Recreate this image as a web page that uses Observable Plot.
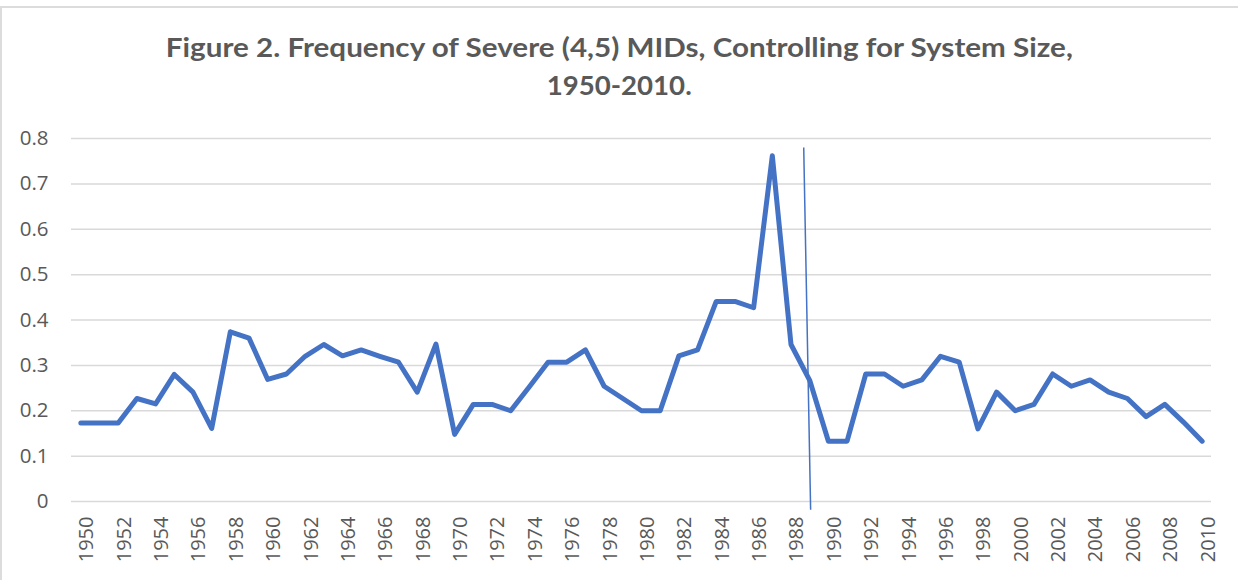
<!DOCTYPE html>
<html>
<head>
<meta charset="utf-8">
<script src="https://cdn.jsdelivr.net/npm/d3@7"></script>
<script src="https://cdn.jsdelivr.net/npm/@observablehq/plot@0.6"></script>
<style>
  body { margin: 0; background: #fff; }
  #wrap { position: relative; width: 1238px; height: 580px; overflow: hidden; background: #fff; }
  #frame { position: absolute; left: 0; top: 6px; width: 1400px; height: 800px;
           border-left: 2px solid #dcdcdc; border-top: 2px solid #dcdcdc; pointer-events: none; z-index: 3; }
  .t { position: absolute; left: 0; width: 1238px; text-align: center;
       font-family: Lato, "Open Sans", sans-serif; font-weight: bold; font-size: 27.5px; line-height: 27px;
       color: #595959; white-space: nowrap; z-index: 2; }
  .t span { display: inline-block; transform-origin: 50% 50%; }
  #chart { position: absolute; left: 0; top: 120px; }
</style>
</head>
<body>
<div id="wrap">
  <div id="frame"></div>
  <div class="t" id="t1" style="top:33px"><span data-w="907">Figure 2. Frequency of Severe (4,5) MIDs, Controlling for System Size,</span></div>
  <div class="t" id="t2" style="top:71px"><span data-w="145">1950-2010.</span></div>
  <div id="chart"></div>
</div>
<script>
const years = [
  1950,1951,1952,1953,1954,1955,1956,1957,1958,1959,
  1960,1961,1962,1963,1964,1965,1966,1967,1968,1969,
  1970,1971,1972,1973,1974,1975,1976,1977,1978,1979,
  1980,1981,1982,1983,1984,1985,1986,1987,1988,1989,
  1990,1991,1992,1993,1994,1995,1996,1997,1998,1999,
  2000,2001,2002,2003,2004,2005,2006,2007,2008,2009,
  2010
];
const values = [
  0.173,0.173,0.173,0.227,0.215,0.280,0.241,0.161,0.374,0.360,
  0.269,0.281,0.320,0.346,0.321,0.334,0.320,0.307,0.241,0.347,
  0.148,0.214,0.214,0.200,0.253,0.307,0.307,0.334,0.254,0.227,
  0.200,0.200,0.321,0.334,0.441,0.441,0.427,0.762,0.346,0.267,
  0.133,0.133,0.281,0.281,0.254,0.268,0.320,0.307,0.160,0.241,
  0.200,0.214,0.281,0.254,0.268,0.241,0.227,0.187,0.214,0.175,
  0.133
];
const yTicks = [0, 0.1, 0.2, 0.3, 0.4, 0.5, 0.6, 0.7, 0.8];
const yTickLabels = ["0", "0.1", "0.2", "0.3", "0.4", "0.5", "0.6", "0.7", "0.8"];
const xTickYears = [1950,1952,1954,1956,1958,1960,1962,1964,1966,1968,1970,1972,1974,1976,1978,
  1980,1982,1984,1986,1988,1990,1992,1994,1996,1998,2000,2002,2004,2006,2008,2010];
// hand-drawn annotation line (start / end)
const markerYears = [1988.68, 1989.05];
const markerValues = [0.78, -0.018];

const data = years.map((year, i) => ({year, value: values[i]}));
const marker = [{x1: markerYears[0], y1: markerValues[0], x2: markerYears[1], y2: markerValues[1]}];

const plot = Plot.plot({
  width: 1238,
  height: 460,
  marginLeft: 71,
  marginRight: 27,
  marginTop: 18,
  marginBottom: 79,
  style: {background: "transparent", fontFamily: "'Open Sans', sans-serif", color: "#595959"},
  x: {domain: [1949.5, 2010.5]},
  y: {domain: [0, 0.8]},
  marks: [
    Plot.gridY(yTicks, {stroke: "#d9d9d9", strokeOpacity: 1, strokeWidth: 1.5}),
    Plot.axisY(yTicks, {tickSize: 0, tickPadding: 23, fontSize: 20.5, label: null,
      tickFormat: (d, i) => yTickLabels[yTicks.indexOf(d)], fill: "#595959"}),
    Plot.axisX(xTickYears, {tickSize: 0, tickRotate: -90, tickPadding: 15, fontSize: 20, label: null,
      tickFormat: d => String(d), fill: "#595959", dx: 6}),
    Plot.line(data, {x: "year", y: "value", stroke: "#4472C4", strokeWidth: 5,
      strokeLinejoin: "round", strokeLinecap: "round"}),
    Plot.link(marker, {x1: "x1", y1: "y1", x2: "x2", y2: "y2", stroke: "#4472C4", strokeWidth: 1.5})
  ]
});
document.getElementById("chart").appendChild(plot);

// fit the title lines to the reference widths
document.querySelectorAll(".t span").forEach(s => {
  const target = +s.dataset.w;
  const w = s.getBoundingClientRect().width;
  if (w > 0) s.style.transform = `scaleX(${target / w})`;
});
</script>
</body>
</html>
